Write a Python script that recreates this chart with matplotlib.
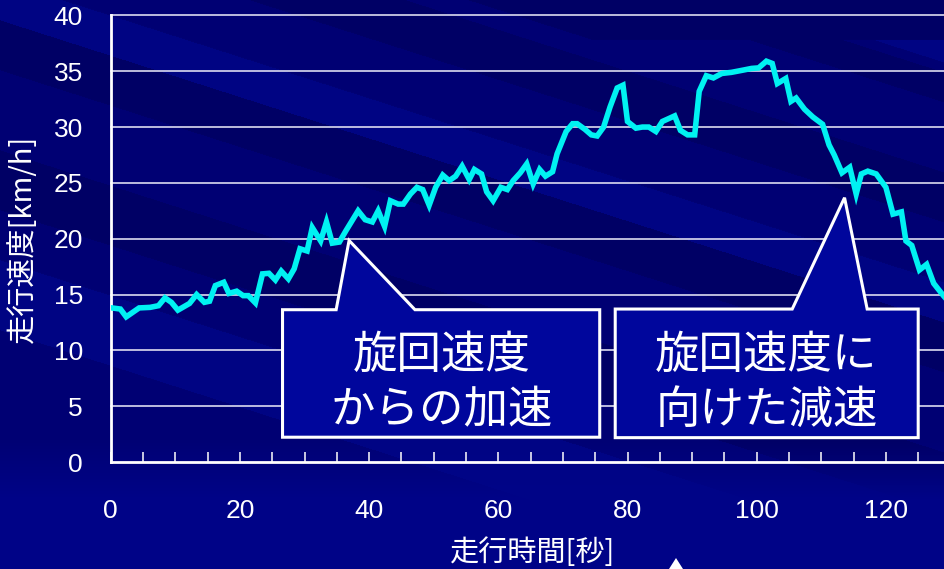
import numpy as np
import matplotlib
matplotlib.use("Agg")
import matplotlib.pyplot as plt
from matplotlib.patches import Polygon

plt.rcParams['font.family'] = ['Noto Sans CJK JP', 'DejaVu Sans']

# 走行時間[秒] と 走行速度[km/h]
time_s = [0.2, 1.5, 2.4, 4.4, 6.1, 7.4, 8.4, 9.4, 10.4, 12.2, 13.3, 14.5, 15.3,
          16.2, 17.5, 18.3, 19.5, 20.5, 21.3, 22.4, 23.5, 24.5, 25.5, 26.4,
          27.5, 28.4, 29.3, 30.4, 31.2, 32.5, 33.4, 34.3, 35.4, 36.4, 38.3,
          39.4, 40.5, 41.4, 42.4, 43.3, 44.5, 45.3, 46.4, 47.4, 48.3, 49.3,
          50.3, 51.4, 52.4, 53.4, 54.4, 55.5, 56.3, 57.4, 58.2, 59.2, 60.4,
          61.4, 62.3, 63.4, 64.4, 65.4, 66.4, 67.3, 68.4, 69.1, 70.5, 71.5,
          72.2, 73.4, 74.4, 75.3, 76.3, 77.3, 78.4, 79.3, 80.0, 81.3, 82.3,
          83.3, 84.4, 85.4, 87.3, 88.2, 89.3, 90.4, 91.1, 92.2, 93.3, 94.6,
          96.1, 97.9, 99.2, 100.3, 101.5, 102.4, 103.2, 104.5, 105.3, 106.1,
          107.4, 108.7, 110.2, 111.2, 112.0, 113.2, 114.4, 115.4, 116.2,
          117.2, 118.5, 120.0, 121.1, 122.4, 123.1, 124.0, 125.2, 126.3,
          127.4, 128.9, 129.5]
speed_kmh = [13.8, 13.7, 13.0, 13.8, 13.85, 14.0, 14.7, 14.3, 13.6, 14.2, 15.0,
             14.3, 14.4, 15.8, 16.1, 15.1, 15.3, 14.9, 14.9, 14.25, 16.85, 16.9,
             16.3, 17.1, 16.4, 17.3, 19.1, 18.9, 21.0, 19.8, 21.5, 19.6, 19.7,
             20.7, 22.5, 21.7, 21.5, 22.5, 21.1, 23.4, 23.1, 23.1, 24.0, 24.6,
             24.4, 23.0, 24.6, 25.7, 25.2, 25.6, 26.5, 25.3, 26.2, 25.8, 24.2,
             23.4, 24.6, 24.4, 25.2, 25.9, 26.7, 24.9, 26.2, 25.6, 26.0, 27.6,
             29.6, 30.3, 30.3, 29.8, 29.3, 29.2, 30.0, 31.8, 33.5, 33.75, 30.5,
             29.9, 30.0, 30.0, 29.6, 30.5, 31.0, 29.7, 29.3, 29.3, 33.2, 34.6,
             34.4, 34.8, 34.9, 35.1, 35.25, 35.3, 35.9, 35.7, 33.9, 34.35, 32.3,
             32.6, 31.6, 30.9, 30.25, 28.4, 27.5, 25.9, 26.4, 24.0, 25.8, 26.05,
             25.8, 24.6, 22.2, 22.4, 19.8, 19.4, 17.2, 17.7, 16.0, 14.9, 14.5]

x_ticks = [0, 20, 40, 60, 80, 100, 120]
y_ticks = [0, 5, 10, 15, 20, 25, 30, 35, 40]

callout_texts = ["旋回速度\nからの加速", "旋回速度に\n向けた減速"]
# 吹き出しの外形 (データ座標)
callout_shapes = [
    [(26.6, 13.64), (34.9, 13.64), (36.9, 19.84), (47.1, 13.64),
     (75.7, 13.64), (75.7, 2.22), (26.6, 2.22)],
    [(78.1, 13.7), (105.5, 13.7), (113.6, 23.67), (117.1, 13.7),
     (125.0, 13.7), (125.0, 2.18), (78.1, 2.18)],
]
callout_centers = [(51.2, 7.1), (101.5, 7.1)]

W, H = 945, 569
fig = plt.figure(figsize=(W / 100, H / 100), dpi=100)

# 背景: 斜めの薄い濃淡の帯
bg = fig.add_axes([0, 0, 1, 1], zorder=0)
yy, xx = np.mgrid[0:H, 0:W]
u = yy - 0.32 * xx
base = np.array([0, 1, 116]) / 255
dark = np.array([0, 0, 102]) / 255
light = np.array([0, 5, 132]) / 255
img = np.ones((H, W, 3)) * base
bands = [(-300, -240, light), (-230, -200, dark), (-130, -80, dark),
         (-20, 20, light), (20, 70, dark), (150, 210, dark),
         (260, 330, light)]
for lo, hi, col in bands:
    m = (u >= lo) & (u < hi)
    img[m] = col
img[:40][u[:40] < -150] = dark
# 下の方はなだらかに明るい紺へ
w = np.clip((yy - 440) / 60, 0, 1)[..., None]
img = img * (1 - w) + (np.array([0, 4, 136]) / 255) * w
bg.imshow(img, aspect='auto', extent=[0, W, H, 0])
bg.set_xlim(0, W)
bg.set_ylim(H, 0)
bg.axis('off')
# 下端の小さな三角
bg.add_patch(Polygon([(676, 558), (669, 569), (683, 569)], closed=True,
                     facecolor='white', edgecolor='none'))

ax = fig.add_axes([110.7 / W, 107 / H, 1 - 110.7 / W, 446.6 / H], zorder=1)
ax.patch.set_alpha(0)
ax.set_xlim(0, (W - 110.7) / 6.46)
ax.set_ylim(0, 40)

for v in y_ticks[1:]:
    ax.axhline(v, color='#dcdcf0', lw=1.2, zorder=1, clip_on=False)

ax.plot(time_s, speed_kmh, color='#00f2f2', lw=4.0, zorder=3,
        solid_joinstyle='miter')

for shape, text, (cx, cy) in zip(callout_shapes, callout_texts, callout_centers):
    ax.add_patch(Polygon(shape, closed=True, facecolor='#00069c',
                         edgecolor='white', lw=2.2, zorder=4))
    ax.text(cx, cy, text, ha='center', va='center', color='white',
            fontsize=32, linespacing=1.25, zorder=5)

for s in ['top', 'right']:
    ax.spines[s].set_visible(False)
for s in ['left', 'bottom']:
    ax.spines[s].set_color('white')
    ax.spines[s].set_linewidth(2)

ax.set_xticks(x_ticks)
ax.set_xticks(np.arange(0, 130, 5), minor=True)
ax.set_yticks(y_ticks)
ax.tick_params(axis='x', which='both', direction='in', length=7, width=1.1,
               color='white', labelcolor='white', labelsize=19, pad=27)
ax.tick_params(axis='y', length=0, labelcolor='white', labelsize=19, pad=20)
for lab in ax.get_xticklabels() + ax.get_yticklabels():
    lab.set_family(['Liberation Sans', 'DejaVu Sans'])

ax.set_xlabel('走行時間[秒]', color='white', fontsize=21, va='center')
ax.set_ylabel('走行速度[km/h]', color='white', fontsize=21, va='center')
ax.xaxis.set_label_coords(0.506, -0.204)
ax.yaxis.set_label_coords(-0.105, 0.5)

fig.savefig('out.png', dpi=100)
